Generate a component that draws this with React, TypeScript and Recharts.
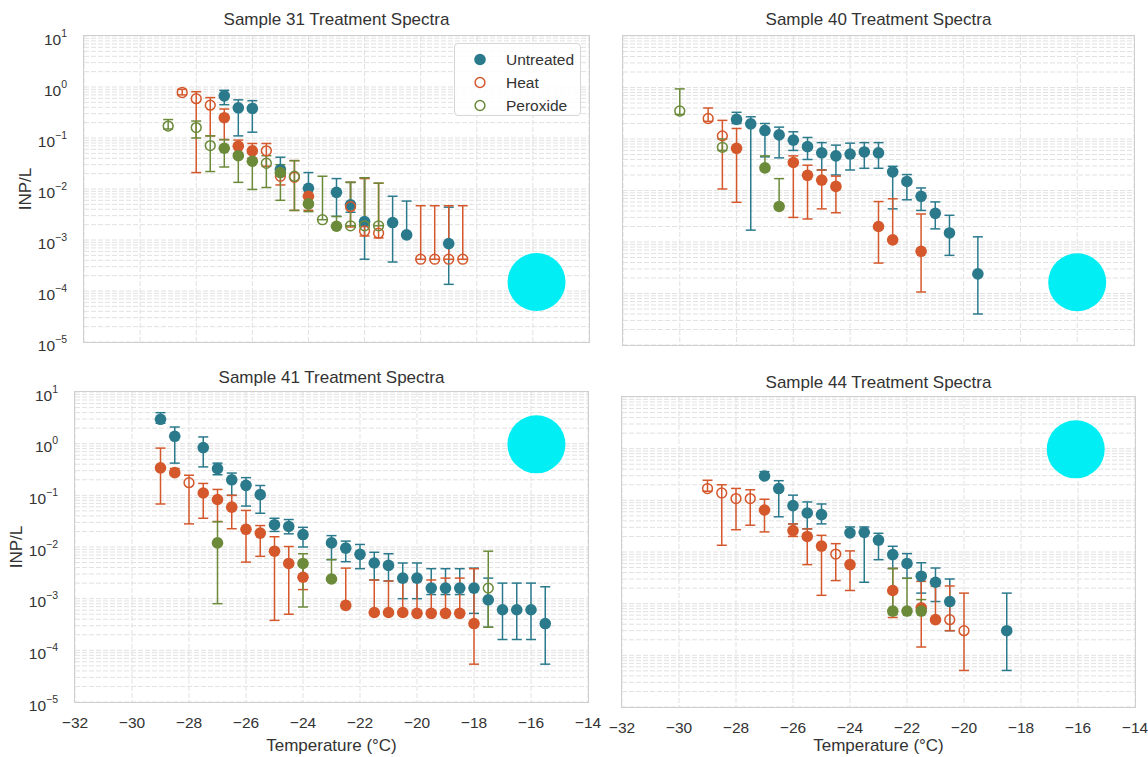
import React from "react";
import { CartesianGrid, ErrorBar, Scatter, ScatterChart, XAxis, YAxis } from "recharts";

// [temperature °C, INP/L, lower bound, upper bound, censored (1 = at detection limit)]
type Point = [number, number, number, number, number];

const s31Untreated: Point[] = [
  [-27, 0.67, 0.45, 0.86, 0],
  [-26.5, 0.39, 0.11, 0.56, 0],
  [-26, 0.38, 0.13, 0.54, 0],
  [-25, 0.024, 0.018, 0.042, 0],
  [-24, 0.0103, 0.007, 0.021, 0],
  [-23, 0.0086, 0.0029, 0.016, 0],
  [-22.5, 0.0049, 0.0035, 0.0135, 0],
  [-22, 0.0023, 0.00042, 0.0166, 0],
  [-21, 0.0022, 0.00037, 0.0072, 0],
  [-20.5, 0.00126, 0.00126, 0.0058, 0],
  [-19, 0.00085, 0.000135, 0.0044, 0],
];
const s31Heat: Point[] = [
  [-28.5, 0.78, 0.7, 0.9, 1],
  [-28, 0.59, 0.021, 0.81, 1],
  [-27.5, 0.44, 0.11, 0.62, 1],
  [-27, 0.25, 0.093, 0.37, 0],
  [-26.5, 0.069, 0.05, 0.091, 0],
  [-26, 0.056, 0.04, 0.078, 0],
  [-25.5, 0.056, 0.028, 0.078, 1],
  [-25, 0.0178, 0.012, 0.024, 1],
  [-24.5, 0.017, 0.0038, 0.036, 1],
  [-24, 0.0072, 0.0038, 0.0103, 0],
  [-22.5, 0.0045, 0.0018, 0.0135, 1],
  [-22, 0.0015, 0.0012, 0.016, 1],
  [-21.5, 0.00136, 0.0011, 0.013, 1],
  [-20, 0.00042, 0.00042, 0.0047, 1],
  [-19.5, 0.00042, 0.00042, 0.0047, 1],
  [-19, 0.00042, 0.00042, 0.0047, 1],
  [-18.5, 0.00042, 0.00042, 0.0047, 1],
];
const s31Peroxide: Point[] = [
  [-29, 0.171, 0.15, 0.23, 1],
  [-28, 0.16, 0.1, 0.215, 1],
  [-27.5, 0.071, 0.022, 0.11, 1],
  [-27, 0.063, 0.027, 0.093, 0],
  [-26.5, 0.045, 0.0135, 0.07, 0],
  [-26, 0.035, 0.0098, 0.05, 0],
  [-25.5, 0.032, 0.0107, 0.045, 1],
  [-25, 0.021, 0.006, 0.03, 0],
  [-24.5, 0.0178, 0.0038, 0.036, 1],
  [-24, 0.0051, 0.0036, 0.0072, 0],
  [-23.5, 0.0025, 0.0025, 0.0178, 1],
  [-23, 0.00186, 0.00186, 0.0029, 0],
  [-22.5, 0.0019, 0.0019, 0.0135, 1],
  [-22, 0.0019, 0.0019, 0.0166, 1],
  [-21.5, 0.0019, 0.0019, 0.013, 1],
];

const s40Untreated: Point[] = [
  [-28, 0.24, 0.2, 0.33, 0],
  [-27.5, 0.197, 0.0017, 0.27, 0],
  [-27, 0.146, 0.045, 0.2, 0],
  [-26.5, 0.12, 0.043, 0.17, 0],
  [-26, 0.095, 0.06, 0.138, 0],
  [-25.5, 0.071, 0.04, 0.107, 0],
  [-25, 0.054, 0.025, 0.085, 0],
  [-24.5, 0.047, 0.02, 0.076, 0],
  [-24, 0.051, 0.025, 0.083, 0],
  [-23.5, 0.056, 0.027, 0.085, 0],
  [-23, 0.054, 0.027, 0.085, 0],
  [-22.5, 0.023, 0.0044, 0.0295, 0],
  [-22, 0.015, 0.0066, 0.0204, 0],
  [-21.5, 0.0077, 0.0041, 0.0112, 0],
  [-21, 0.0036, 0.0018, 0.006, 0],
  [-20.5, 0.0015, 0.00055, 0.0033, 0],
  [-19.5, 0.00024, 0.00004, 0.00126, 0],
];
const s40Heat: Point[] = [
  [-29, 0.25, 0.22, 0.4, 1],
  [-28.5, 0.115, 0.0107, 0.23, 1],
  [-28, 0.066, 0.0059, 0.16, 0],
  [-26, 0.035, 0.003, 0.047, 0],
  [-25.5, 0.0197, 0.0028, 0.031, 0],
  [-25, 0.0159, 0.0044, 0.025, 0],
  [-24.5, 0.012, 0.0037, 0.019, 0],
  [-23, 0.002, 0.00039, 0.0061, 0],
  [-22.5, 0.0011, 0.0011, 0.0069, 0],
  [-21.5, 0.00066, 0.000107, 0.0035, 0],
];
const s40Peroxide: Point[] = [
  [-30, 0.35, 0.3, 0.94, 1],
  [-28.5, 0.069, 0.06, 0.1, 1],
  [-27, 0.0275, 0.0245, 0.047, 0],
  [-26.5, 0.0049, 0.0049, 0.017, 0],
];

const s41Untreated: Point[] = [
  [-29, 2.96, 2.5, 3.98, 0],
  [-28.5, 1.39, 0.42, 2.1, 0],
  [-27.5, 0.84, 0.355, 1.35, 0],
  [-27, 0.33, 0.25, 0.42, 0],
  [-26.5, 0.2, 0.1, 0.27, 0],
  [-26, 0.156, 0.062, 0.22, 0],
  [-25.5, 0.103, 0.045, 0.155, 0],
  [-25, 0.027, 0.02, 0.036, 0],
  [-24.5, 0.025, 0.018, 0.034, 0],
  [-24, 0.0174, 0.01, 0.024, 0],
  [-23, 0.012, 0.0057, 0.0166, 0],
  [-22.5, 0.0095, 0.0052, 0.013, 0],
  [-22, 0.0072, 0.0038, 0.0112, 0],
  [-21.5, 0.0049, 0.0023, 0.0079, 0],
  [-21, 0.0044, 0.0022, 0.0074, 0],
  [-20.5, 0.0025, 0.001, 0.0049, 0],
  [-20, 0.0025, 0.001, 0.0049, 0],
  [-19.5, 0.0016, 0.0012, 0.0038, 0],
  [-19, 0.0016, 0.0012, 0.0038, 0],
  [-18.5, 0.0016, 0.0012, 0.0038, 0],
  [-18, 0.0016, 0.00052, 0.0039, 0],
  [-17.5, 0.00095, 0.00028, 0.0025, 0],
  [-17, 0.00061, 0.000162, 0.002, 0],
  [-16.5, 0.00061, 0.000162, 0.002, 0],
  [-16, 0.00061, 0.000162, 0.002, 0],
  [-15.5, 0.00033, 0.000054, 0.0017, 0],
];
const s41Heat: Point[] = [
  [-29, 0.34, 0.068, 0.82, 0],
  [-28.5, 0.275, 0.25, 0.33, 0],
  [-28, 0.176, 0.028, 0.245, 1],
  [-27.5, 0.111, 0.036, 0.17, 0],
  [-27, 0.083, 0.031, 0.13, 0],
  [-26.5, 0.059, 0.0226, 0.1, 0],
  [-26, 0.022, 0.0051, 0.051, 0],
  [-25.5, 0.0186, 0.0066, 0.026, 0],
  [-25, 0.0083, 0.00038, 0.0158, 0],
  [-24.5, 0.0048, 0.0005, 0.0102, 0],
  [-24, 0.0026, 0.0015, 0.0048, 0],
  [-22.5, 0.00074, 0.00074, 0.0039, 0],
  [-21.5, 0.00054, 0.00054, 0.0023, 0],
  [-21, 0.00054, 0.00054, 0.0022, 0],
  [-20.5, 0.00054, 0.00054, 0.0022, 0],
  [-20, 0.00052, 0.00052, 0.0022, 0],
  [-19.5, 0.00052, 0.00052, 0.0023, 0],
  [-19, 0.00052, 0.00052, 0.0025, 0],
  [-18.5, 0.00052, 0.00052, 0.0025, 0],
  [-18, 0.00033, 0.000054, 0.0038, 0],
];
const s41Peroxide: Point[] = [
  [-27, 0.012, 0.0008, 0.031, 0],
  [-24, 0.0048, 0.00069, 0.0074, 0],
  [-23, 0.0024, 0.0024, 0.0057, 0],
  [-17.5, 0.0016, 0.00028, 0.0083, 1],
];

const s44Untreated: Point[] = [
  [-27, 0.296, 0.27, 0.36, 0],
  [-26.5, 0.169, 0.048, 0.24, 0],
  [-26, 0.079, 0.035, 0.126, 0],
  [-25.5, 0.057, 0.028, 0.093, 0],
  [-25, 0.053, 0.035, 0.085, 0],
  [-24, 0.0235, 0.0235, 0.0305, 0],
  [-23.5, 0.024, 0.0026, 0.0305, 0],
  [-23, 0.017, 0.0071, 0.023, 0],
  [-22.5, 0.0089, 0.0048, 0.0129, 0],
  [-22, 0.006, 0.0031, 0.0093, 0],
  [-21.5, 0.0034, 0.0016, 0.0062, 0],
  [-21, 0.0026, 0.0011, 0.0049, 0],
  [-20.5, 0.0011, 0.0003, 0.003, 0],
  [-18.5, 0.0003, 0.000051, 0.0016, 0],
];
const s44Heat: Point[] = [
  [-29, 0.169, 0.15, 0.245, 1],
  [-28.5, 0.139, 0.0135, 0.2, 1],
  [-28, 0.108, 0.027, 0.17, 1],
  [-27.5, 0.108, 0.033, 0.16, 1],
  [-27, 0.065, 0.0245, 0.105, 0],
  [-26, 0.026, 0.02, 0.035, 0],
  [-25.5, 0.02, 0.0057, 0.028, 0],
  [-25, 0.013, 0.00145, 0.021, 0],
  [-24.5, 0.0091, 0.0028, 0.0145, 1],
  [-24, 0.0057, 0.0018, 0.0105, 0],
  [-22.5, 0.0018, 0.00054, 0.0048, 0],
  [-21.5, 0.00083, 0.000145, 0.0027, 0],
  [-21, 0.00049, 0.00049, 0.0022, 0],
  [-20.5, 0.00049, 0.0003, 0.0022, 1],
  [-20, 0.0003, 0.000051, 0.0016, 1],
];
const s44Peroxide: Point[] = [
  [-22.5, 0.00072, 0.00062, 0.0048, 0],
  [-22, 0.00072, 0.00072, 0.0031, 0],
  [-21.5, 0.00072, 0.00072, 0.0012, 0],
];

// round highlight spot drawn in each panel: [temperature, INP/L]
const s31Spot = [-15.87, 1.5e-4];
const s40Spot = [-16, 1.65e-4];
const s41Spot = [-15.81, 0.97];
const s44Spot = [-16.08, 0.97];

const seriesNames = ["Untreated", "Heat", "Peroxide"];
const tempTicks = [-32, -30, -28, -26, -24, -22, -20, -18, -16, -14];
const decadeExps = [-5, -4, -3, -2, -1, 0, 1];

const COLORS = ["#2a7a8c", "#d4582c", "#6b8a3a"];
const CYAN = "#00eef4";
const FONT = "'Liberation Sans', Arial, sans-serif";
const TEXT = "#333333";
const W = 1148;
const H = 757;

// major + minor log ticks (1..9 x 10^k) for the grid
const logTicks: number[] = [];
decadeExps.forEach((e) => {
  if (e === 1) {
    logTicks.push(10);
    return;
  }
  for (let m = 1; m <= 9; m++) logTicks.push(Number((m * Math.pow(10, e)).toPrecision(3)));
});

const toRows = (pts: Point[]) =>
  pts.map(([x, y, lo, hi, c]) => ({ x, y, err: [y - lo, hi - y], censored: c === 1 }));

type Frame = { left: number; top: number; right: number; bottom: number };

type PanelProps = {
  title: string;
  frame: Frame;
  series: Point[][];
  spot: number[];
  showX: boolean;
  showY: boolean;
  titleY: number;
  legend?: boolean;
};

const fmtExp = (e: number) => (e < 0 ? "\u2212" + -e : String(e));

const Marker = (color: string) => (props: any) => {
  const { cx, cy, payload } = props;
  if (cx == null || cy == null) return <g />;
  if (payload && payload.censored) {
    return <circle cx={cx} cy={cy} r={4.9} fill="none" stroke={color} strokeWidth={1.5} />;
  }
  return <circle cx={cx} cy={cy} r={5.8} fill={color} stroke="none" />;
};

function Panel({ title, frame, series, spot, showX, showY, titleY, legend }: PanelProps) {
  // axes take 1px each so they still render their tick labels
  const margin = {
    top: frame.top,
    left: frame.left - 1,
    right: W - frame.right,
    bottom: H - frame.bottom - 1,
  };
  const cx = (frame.left + frame.right) / 2;
  const cy = (frame.top + frame.bottom) / 2;
  const xLabelY = Math.min(frame.bottom + 43, 745);

  const yTick = (props: any) => {
    const v = props.payload.value;
    const e = Math.round(Math.log10(v));
    if (!showY || Math.abs(v - Math.pow(10, e)) > 1e-6 * Math.pow(10, e)) return <g />;
    return (
      <text x={frame.left - 17} y={props.y + 8.5} textAnchor="end" fontSize={15.5} fill={TEXT} fontFamily={FONT}>
        10
        <tspan dy={-8} fontSize={10.5}>
          {fmtExp(e)}
        </tspan>
      </text>
    );
  };

  const xTick = (props: any) => {
    if (!showX) return <g />;
    const v = props.payload.value;
    return (
      <text x={props.x} y={frame.bottom + 26} textAnchor="middle" fontSize={15.5} fill={TEXT} fontFamily={FONT}>
        {v < 0 ? "\u2212" + -v : v}
      </text>
    );
  };

  return (
    <>
      <div style={{ position: "absolute", left: 0, top: 0 }}>
        <ScatterChart width={W} height={H} margin={margin}>
          <CartesianGrid stroke="#e1e1e1" strokeDasharray="5 2" strokeWidth={1} />
          <XAxis
            type="number"
            dataKey="x"
            domain={[-32, -14]}
            ticks={tempTicks}
            allowDataOverflow
            axisLine={false}
            tickLine={false}
            height={1}
            tick={xTick}
            interval={0}
          />
          <YAxis
            type="number"
            dataKey="y"
            scale="log"
            domain={[1e-5, 10]}
            ticks={logTicks}
            allowDataOverflow
            axisLine={false}
            tickLine={false}
            width={1}
            tick={yTick}
            interval={0}
          />
          {series.map((pts, i) => (
            <Scatter
              key={seriesNames[i]}
              name={seriesNames[i]}
              data={toRows(pts)}
              shape={Marker(COLORS[i])}
              isAnimationActive={false}
            >
              <ErrorBar dataKey="err" direction="y" width={5} stroke={COLORS[i]} strokeWidth={1.5} />
            </Scatter>
          ))}
          <Scatter
            data={[{ x: spot[0], y: spot[1] }]}
            shape={(p: any) => <circle cx={p.cx} cy={p.cy} r={29} fill={CYAN} />}
            isAnimationActive={false}
          />
        </ScatterChart>
      </div>
      <div
        style={{
          position: "absolute",
          left: frame.left - 0.75,
          top: frame.top - 0.75,
          width: frame.right - frame.left + 1.5,
          height: frame.bottom - frame.top + 1.5,
          border: "1.5px solid #cfcfcf",
          boxSizing: "border-box",
          pointerEvents: "none",
        }}
      />
      <div style={{ ...centered(cx, titleY), fontSize: 17 }}>{title}</div>
      {showX && <div style={{ ...centered(cx, xLabelY), fontSize: 17 }}>Temperature (°C)</div>}
      {showY && (
        <div style={{ ...centered(frame.left - 59, cy), fontSize: 17, transform: "translate(-50%, -50%) rotate(-90deg)" }}>
          INP/L
        </div>
      )}
      {legend && <Legend x={frame.right - 135} y={frame.top + 7} />}
    </>
  );
}

function centered(x: number, y: number): React.CSSProperties {
  return {
    position: "absolute",
    left: x,
    top: y,
    transform: "translate(-50%, -50%)",
    whiteSpace: "nowrap",
    fontFamily: FONT,
    color: TEXT,
    lineHeight: 1,
  };
}

function Legend({ x, y }: { x: number; y: number }) {
  return (
    <div
      style={{
        position: "absolute",
        left: x,
        top: y,
        width: 127,
        height: 73,
        boxSizing: "border-box",
        border: "1px solid #d6d6d6",
        borderRadius: 4,
        background: "rgba(255,255,255,0.85)",
        fontFamily: FONT,
        color: TEXT,
        fontSize: 15.5,
      }}
    >
      {seriesNames.map((n, i) => (
        <div key={n} style={{ position: "absolute", left: 0, top: 4 + i * 23, height: 23, display: "flex", alignItems: "center" }}>
          <svg width={50} height={23}>
            {i === 0 ? (
              <circle cx={25} cy={11.5} r={5.8} fill={COLORS[i]} />
            ) : (
              <circle cx={25} cy={11.5} r={4.9} fill="none" stroke={COLORS[i]} strokeWidth={1.5} />
            )}
          </svg>
          <span style={{ marginLeft: 1 }}>{n}</span>
        </div>
      ))}
    </div>
  );
}

export default function App() {
  return (
    <div style={{ position: "absolute", left: 0, top: 0, width: W, height: H, background: "#ffffff", overflow: "hidden" }}>
      <Panel
        title="Sample 31 Treatment Spectra"
        frame={{ left: 84, top: 36, right: 589, bottom: 342 }}
        series={[s31Untreated, s31Heat, s31Peroxide]}
        spot={s31Spot}
        showX={false}
        showY={true}
        titleY={19}
        legend
      />
      <Panel
        title="Sample 40 Treatment Spectra"
        frame={{ left: 623, top: 36, right: 1134, bottom: 345 }}
        series={[s40Untreated, s40Heat, s40Peroxide]}
        spot={s40Spot}
        showX={false}
        showY={false}
        titleY={19}
      />
      <Panel
        title="Sample 41 Treatment Spectra"
        frame={{ left: 75, top: 392, right: 588, bottom: 702 }}
        series={[s41Untreated, s41Heat, s41Peroxide]}
        spot={s41Spot}
        showX={true}
        showY={true}
        titleY={377}
      />
      <Panel
        title="Sample 44 Treatment Spectra"
        frame={{ left: 622, top: 397, right: 1135, bottom: 707 }}
        series={[s44Untreated, s44Heat, s44Peroxide]}
        spot={s44Spot}
        showX={true}
        showY={false}
        titleY={382}
      />
    </div>
  );
}
